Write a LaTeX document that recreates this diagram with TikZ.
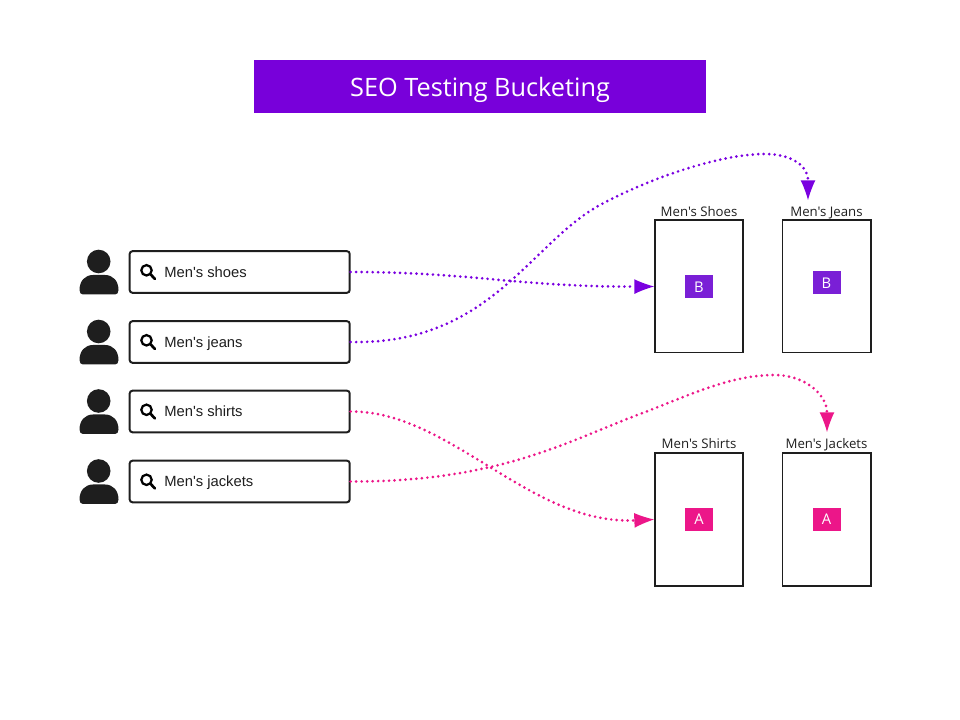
\documentclass[tikz,border=0pt]{standalone}
\usepackage{fontspec}
\setmainfont{Open Sans}
\newfontfamily\labelfont{Open Sans}
\newfontfamily\searchfont{Liberation Sans}
\definecolor{dntitle}{HTML}{7800DA}
\definecolor{dntim}{HTML}{7A00E0}
\definecolor{dnbadgeb}{HTML}{7A1FD6}
\definecolor{dnhong}{HTML}{EC1689}
\definecolor{dnden}{HTML}{1E1E1E}
\usetikzlibrary{arrows.meta,calc}
\begin{document}
\begin{tikzpicture}[x=0.025cm,y=-0.025cm]
	\tikzstyle{titlestyle} = [fill=dntitle,text=white,minimum width=11.3cm,minimum height=1.325cm,inner sep=0pt,text height=14pt,text depth=0pt,font=\labelfont\fontsize{18}{22}\selectfont]
	\tikzstyle{searchstyle} = [draw=dnden,fill=white,line width=1.4pt,rounded corners=2pt,minimum width=5.5cm,minimum height=1.04cm,inner sep=0pt]
	\tikzstyle{searchtext} = [anchor=base west,inner sep=0pt,text=dnden,font=\searchfont\fontsize{10.5}{12}\selectfont]
	\tikzstyle{pagestyle} = [draw=dnden,line width=1.4pt,minimum width=2.2cm,minimum height=3.3cm,inner sep=0pt]
	\tikzstyle{pagetitle} = [anchor=base,inner sep=0pt,text=dnden,font=\labelfont\fontsize{9.4}{11}\selectfont]
	\tikzstyle{badgestyle} = [text=white,minimum width=0.7cm,minimum height=0.575cm,inner sep=0pt,text height=7.2pt,text depth=0pt,font=\labelfont\fontsize{10.5}{12}\selectfont]
	\tikzstyle{linestyle} = [line width=2.1pt,line cap=round,dash pattern=on 0pt off 3.9pt,-{Latex[length=14pt,width=10.5pt,line width=0pt]}]
	\useasboundingbox (0,0) rectangle (960,720);
	\node[titlestyle] (title) at (480,86.5) {SEO Testing Bucketing};
	% search rows
	\foreach \name/\y in {shoes/272,jeans/342,shirts/411.5,jackets/481.5}{
		\fill[dnden] (98.7,{\y-10.5}) circle (11.8);
		\fill[dnden] (79.5,{\y+18}) .. controls (79.5,{\y+9}) and (85,{\y+3}) .. (93,{\y+3}) -- (105,{\y+3}) .. controls (113,{\y+3}) and (118.5,{\y+9}) .. (118.5,{\y+18}) .. controls (118.5,{\y+21}) and (117,{\y+22.5}) .. (115,{\y+22.5}) -- (83,{\y+22.5}) .. controls (81,{\y+22.5}) and (79.5,{\y+21}) .. cycle;
		\node[searchstyle] (q\name) at (239.7,\y) {};
		\draw[black,line width=1.6pt] (146.5,{\y-1.7}) circle (5.2);
		\draw[black,line width=1.9pt,line cap=round] (150.5,{\y+2.3}) -- (155,{\y+7});
		\node[searchtext] (t\name) at (164,{\y+5.3}) {Men's \name};
	}
	% pages
	\node[pagestyle] (pshoes) at (699,286.5) {};
	\node[pagestyle] (pjeans) at (826.5,286.5) {};
	\node[pagestyle] (pshirts) at (699,519.5) {};
	\node[pagestyle] (pjackets) at (826.5,519.5) {};
	\node[pagetitle] (lshoes) at (699,216.7) {Men's Shoes};
	\node[pagetitle] (ljeans) at (826.5,216.7) {Men's Jeans};
	\node[pagetitle] (lshirts) at (699,448.7) {Men's Shirts};
	\node[pagetitle] (ljackets) at (826.5,448.7) {Men's Jackets};
	\node[badgestyle,fill=dnbadgeb] (bshoes) at (699,287) {B};
	\node[badgestyle,fill=dnbadgeb] (bjeans) at (826.5,283) {B};
	\node[badgestyle,fill=dnhong] (bshirts) at (699,519.5) {A};
	\node[badgestyle,fill=dnhong] (bjackets) at (826.5,519.5) {A};
	\coordinate (tipjeans) at (808,200);
	\coordinate (tipjackets) at (827,432);
	% connectors
	\draw[linestyle,dntim] (qshoes.east) .. controls (470,272) and (520,287) .. (pshoes.west);
	\draw[linestyle,dntim] (qjeans.east) .. controls (490,345) and (530,243) .. (600,205) .. controls (650,178) and (720,154) .. (765,154) .. controls (790,154) and (808,165) .. (tipjeans);
	\draw[linestyle,dnhong] (qshirts.east) .. controls (450,411) and (530,525) .. (pshirts.west);
	\draw[linestyle,dnhong] (qjackets.east) .. controls (500,482) and (570,440) .. (640,414) .. controls (690,395) and (730,375) .. (775,375) .. controls (805,375) and (827,395) .. (tipjackets);
\end{tikzpicture}
\end{document}
